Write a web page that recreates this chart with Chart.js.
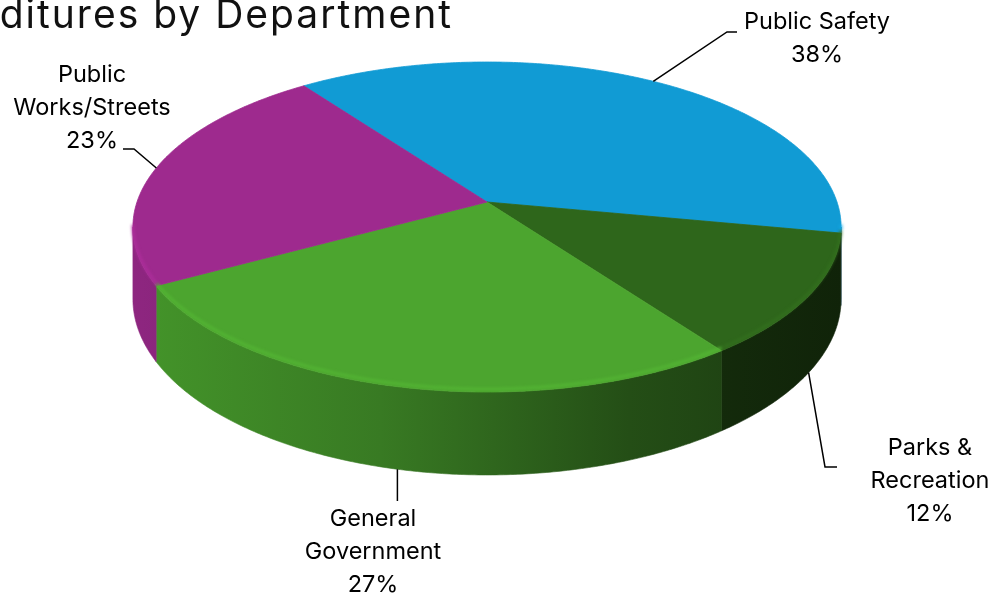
<!DOCTYPE html>
<html>
<head>
<meta charset="utf-8">
<title>Expenditures by Department</title>
<script src="https://cdn.jsdelivr.net/npm/chart.js@4.4.1/dist/chart.umd.min.js"></script>
<style>
  html, body { margin: 0; padding: 0; background: #ffffff; overflow: hidden; }
  #wrap { width: 997px; height: 594px; position: relative; }
  canvas { display: block; }
</style>
</head>
<body>
<div id="wrap"><canvas id="chart" width="997" height="594"></canvas></div>
<script>
// ---- data ----
const categories = ['Public Safety', 'Parks & Recreation', 'General Government', 'Public Works/Streets'];
const shares = [38, 12, 27, 23];
const nameLines = [['Public Safety'], ['Parks &', 'Recreation'], ['General', 'Government'], ['Public', 'Works/Streets']];
const sliceColors = ['#119bd4', '#2e661b', '#4ca52f', '#9e2a8e'];
const chartTitle = 'Expenditures by Department';

// ---- 3D look ----
const TILT = 0.4606;     // vertical squash of the disc
const PERSP = 0.1515;    // perspective strength (front grows, back shrinks)
const DEPTH = 70.4;      // wall height
const FONT = '"Inter", "Noto Sans", sans-serif';

// label placement: anchor of the text block and leader-line bend points
const labelLayout = [
  { x: 817, y: 22,  bend: [[727, 32], [737, 32]] },
  { x: 930, y: 448, bend: [[825, 467], [837, 467]] },
  { x: 373, y: 519, bend: [[null, 501]] },
  { x: 92,  y: 75,  bend: [[134, 149], [123, 149]] }
];

function shade(hex, f) {
  const n = parseInt(hex.slice(1), 16);
  const r = Math.min(255, Math.round(((n >> 16) & 255) * f));
  const g = Math.min(255, Math.round(((n >> 8) & 255) * f));
  const b = Math.min(255, Math.round((n & 255) * f));
  return `rgb(${r},${g},${b})`;
}

function project(cx, cy, R, ang, depth) {
  const u = Math.cos(ang), v = Math.sin(ang);
  const w = 1 - PERSP * v;
  return { x: cx + R * u / w, y: cy + R * TILT * v / w + (depth || 0) / w };
}

// visible part of the outer wall, between the two silhouette angles
const WALL_LO = Math.asin(PERSP);
const WALL_HI = Math.PI - Math.asin(PERSP);

function wallRanges(s, e) {
  const out = [];
  for (let k = -1; k <= 1; k++) {
    const lo = Math.max(s, WALL_LO + 2 * Math.PI * k);
    const hi = Math.min(e, WALL_HI + 2 * Math.PI * k);
    if (hi > lo) out.push([lo, hi]);
  }
  return out;
}

function inWall(a) {
  const t = ((a % (2 * Math.PI)) + 2 * Math.PI) % (2 * Math.PI);
  return t >= WALL_LO && t <= WALL_HI;
}

const STEP = Math.PI / 360;

const pie3d = {
  id: 'pie3d',
  beforeDatasetsDraw(chart) {
    const ctx = chart.ctx;
    const arcs = chart.getDatasetMeta(0).data;
    const colors = chart.data.datasets[0].backgroundColor;
    const left = project(arcs[0].x, arcs[0].y, arcs[0].outerRadius, Math.PI).x;
    const right = project(arcs[0].x, arcs[0].y, arcs[0].outerRadius, 0).x;

    ctx.save();
    // walls
    arcs.forEach((arc, i) => {
      const { x, y, startAngle, endAngle, outerRadius: R } = arc.getProps(['x', 'y', 'startAngle', 'endAngle', 'outerRadius'], true);
      wallRanges(startAngle, endAngle).forEach(([lo, hi]) => {
        ctx.beginPath();
        for (let a = lo; a < hi; a += STEP) {
          const p = project(x, y, R, a, 0);
          a === lo ? ctx.moveTo(p.x, p.y) : ctx.lineTo(p.x, p.y);
        }
        let p = project(x, y, R, hi, 0); ctx.lineTo(p.x, p.y);
        for (let a = hi; a > lo; a -= STEP) {
          p = project(x, y, R, a, DEPTH); ctx.lineTo(p.x, p.y);
        }
        p = project(x, y, R, lo, DEPTH); ctx.lineTo(p.x, p.y);
        ctx.closePath();
        const g = ctx.createLinearGradient(left - 5, 0, right + 5, 0);
        g.addColorStop(0, shade(colors[i], 0.9));
        g.addColorStop(0.35, shade(colors[i], 0.74));
        g.addColorStop(0.7, shade(colors[i], 0.47));
        g.addColorStop(1, shade(colors[i], 0.34));
        ctx.fillStyle = g;
        ctx.fill();
        ctx.strokeStyle = g;
        ctx.lineWidth = 0.6;
        ctx.stroke();
      });
    });

    // top faces
    arcs.forEach((arc, i) => {
      const { x, y, startAngle, endAngle, outerRadius: R } = arc.getProps(['x', 'y', 'startAngle', 'endAngle', 'outerRadius'], true);
      ctx.beginPath();
      const c = project(x, y, 0, 0, 0);
      ctx.moveTo(c.x, c.y);
      for (let a = startAngle; a < endAngle; a += STEP) {
        const p = project(x, y, R, a, 0);
        ctx.lineTo(p.x, p.y);
      }
      const p = project(x, y, R, endAngle, 0);
      ctx.lineTo(p.x, p.y);
      ctx.closePath();
      ctx.fillStyle = colors[i];
      ctx.fill();
      ctx.strokeStyle = colors[i];
      ctx.lineWidth = 0.8;
      ctx.stroke();
    });

    // soft light rim along the front edge
    ctx.filter = 'blur(1.5px)';
    arcs.forEach((arc, i) => {
      const { x, y, startAngle, endAngle, outerRadius: R } = arc.getProps(['x', 'y', 'startAngle', 'endAngle', 'outerRadius'], true);
      wallRanges(startAngle, endAngle).forEach(([lo, hi]) => {
        ctx.beginPath();
        for (let a = lo; a <= hi; a += STEP) {
          const p = project(x, y, R, a, -2.5);
          a === lo ? ctx.moveTo(p.x, p.y) : ctx.lineTo(p.x, p.y);
        }
        ctx.strokeStyle = shade(colors[i], 1.1);
        ctx.lineWidth = 2.5;
        ctx.stroke();
      });
    });
    ctx.filter = 'none';
    ctx.restore();
    return false; // the flat pie is replaced by the drawing above
  },
  afterDraw(chart) {
    const ctx = chart.ctx;
    const arcs = chart.getDatasetMeta(0).data;
    ctx.save();

    // title, anchored at its right end
    ctx.fillStyle = '#111111';
    ctx.font = `39px ${FONT}`;
    ctx.letterSpacing = '2px';
    ctx.textAlign = 'right';
    ctx.textBaseline = 'alphabetic';
    ctx.fillText(chartTitle, 453, 28);
    ctx.letterSpacing = '0px';

    // leader lines
    ctx.strokeStyle = '#000000';
    ctx.lineWidth = 1.5;
    arcs.forEach((arc, i) => {
      const { x, y, startAngle, endAngle, outerRadius: R } = arc.getProps(['x', 'y', 'startAngle', 'endAngle', 'outerRadius'], true);
      const mid = (startAngle + endAngle) / 2;
      const anchor = project(x, y, R, mid, inWall(mid) ? DEPTH : 0);
      ctx.beginPath();
      ctx.moveTo(anchor.x, anchor.y);
      labelLayout[i].bend.forEach(([bx, by]) => ctx.lineTo(bx === null ? anchor.x : bx, by));
      ctx.stroke();
    });

    // category labels with their share
    ctx.fillStyle = '#000000';
    ctx.font = `23.5px ${FONT}`;
    ctx.textAlign = 'center';
    ctx.textBaseline = 'middle';
    categories.forEach((cat, i) => {
      const lines = nameLines[i].concat([`${shares[i]}%`]);
      lines.forEach((t, k) => ctx.fillText(t, labelLayout[i].x, labelLayout[i].y + k * 33));
    });
    ctx.restore();
  }
};

new Chart(document.getElementById('chart'), {
  type: 'pie',
  data: {
    labels: categories,
    datasets: [{
      data: shares,
      backgroundColor: sliceColors,
      borderWidth: 0,
      radius: 350
    }]
  },
  options: {
    responsive: false,
    animation: false,
    rotation: -36,
    layout: { padding: { left: 0, right: 23, top: 0, bottom: 190 } },
    plugins: {
      legend: { display: false },
      tooltip: { enabled: false },
      title: { display: false }
    }
  },
  plugins: [pie3d]
});
</script>
</body>
</html>
